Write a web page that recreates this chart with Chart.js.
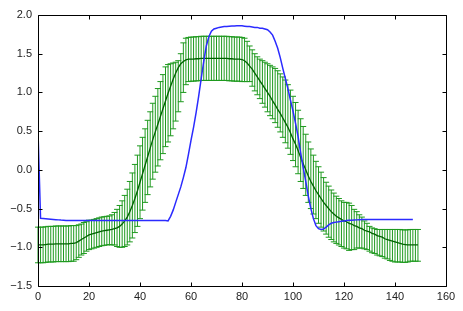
<!DOCTYPE html>
<html><head><meta charset="utf-8">
<script src="https://cdn.jsdelivr.net/npm/chart.js@4/dist/chart.umd.min.js"></script>
<style>html,body{margin:0;padding:0;background:#fff}#wrap{width:463px;height:311px}</style>
</head><body><div id="wrap"><canvas id="c" width="463" height="311"></canvas></div>
<script>
const xTicks = [0, 20, 40, 60, 80, 100, 120, 140, 160];
const yTicks = [-1.5, -1.0, -0.5, 0.0, 0.5, 1.0, 1.5, 2.0];

const greenMean = [
-0.97,-0.97,-0.97,-0.965,-0.96,-0.96,-0.96,-0.955,-0.955,-0.955,
-0.955,-0.955,-0.955,-0.95,-0.95,-0.94,-0.92,-0.90,-0.88,-0.86,
-0.84,-0.83,-0.82,-0.81,-0.80,-0.79,-0.785,-0.78,-0.775,-0.77,
-0.76,-0.75,-0.73,-0.70,-0.66,-0.61,-0.54,-0.46,-0.37,-0.27,
-0.16,-0.05,0.06,0.17,0.28,0.39,0.49,0.59,0.69,0.79,
0.89,0.99,1.08,1.17,1.25,1.32,1.37,1.40,1.42,1.43,
1.43,1.43,1.435,1.435,1.44,1.44,1.44,1.44,1.44,1.44,
1.44,1.44,1.44,1.44,1.44,1.435,1.435,1.43,1.43,1.43,
1.425,1.41,1.38,1.34,1.30,1.25,1.20,1.15,1.10,1.05,
1.00,0.95,0.89,0.84,0.78,0.73,0.67,0.61,0.55,0.48,
0.40,0.33,0.25,0.16,0.08,0.00,-0.08,-0.15,-0.21,-0.27,
-0.32,-0.37,-0.42,-0.46,-0.50,-0.54,-0.57,-0.60,-0.62,-0.64,
-0.66,-0.67,-0.69,-0.70,-0.72,-0.73,-0.75,-0.76,-0.78,-0.79,
-0.80,-0.82,-0.83,-0.85,-0.86,-0.87,-0.89,-0.90,-0.91,-0.92,
-0.93,-0.94,-0.95,-0.96,-0.965,-0.97,-0.97,-0.97,-0.97,-0.97
];

const greenErrUp = [
0.23,0.23,0.23,0.23,0.23,0.23,0.23,0.23,0.23,0.23,
0.23,0.23,0.23,0.23,0.23,0.22,0.21,0.20,0.20,0.19,
0.19,0.18,0.18,0.18,0.18,0.18,0.18,0.18,0.18,0.19,
0.21,0.24,0.27,0.30,0.33,0.36,0.39,0.42,0.44,0.46,
0.47,0.47,0.47,0.47,0.47,0.47,0.46,0.46,0.45,0.44,
0.44,0.37,0.29,0.21,0.14,0.09,0.13,0.24,0.28,0.28,
0.285,0.285,0.285,0.285,0.285,0.285,0.285,0.285,0.285,0.285,
0.285,0.285,0.285,0.285,0.285,0.285,0.285,0.285,0.285,0.285,
0.285,0.29,0.28,0.26,0.25,0.25,0.26,0.28,0.31,0.34,
0.37,0.40,0.44,0.47,0.50,0.51,0.53,0.55,0.55,0.55,
0.55,0.54,0.52,0.50,0.48,0.46,0.44,0.42,0.40,0.38,
0.36,0.34,0.32,0.30,0.29,0.28,0.27,0.26,0.25,0.24,
0.24,0.25,0.26,0.24,0.21,0.19,0.17,0.15,0.12,0.10,
0.07,0.07,0.07,0.08,0.09,0.10,0.12,0.13,0.14,0.15,
0.16,0.17,0.18,0.185,0.19,0.195,0.20,0.20,0.20,0.20
];

const greenErrDown = [
0.23,0.23,0.23,0.23,0.23,0.23,0.23,0.23,0.23,0.23,
0.23,0.23,0.23,0.23,0.23,0.22,0.21,0.20,0.20,0.19,
0.19,0.19,0.19,0.19,0.19,0.19,0.19,0.19,0.19,0.20,
0.21,0.24,0.27,0.30,0.33,0.36,0.39,0.42,0.44,0.46,
0.47,0.47,0.48,0.49,0.50,0.51,0.52,0.54,0.56,0.58,
0.59,0.63,0.64,0.64,0.62,0.57,0.49,0.40,0.32,0.29,
0.285,0.285,0.285,0.285,0.285,0.285,0.285,0.285,0.285,0.285,
0.285,0.285,0.285,0.285,0.285,0.285,0.285,0.285,0.285,0.285,
0.285,0.27,0.24,0.20,0.22,0.23,0.23,0.23,0.24,0.24,
0.25,0.25,0.23,0.23,0.23,0.24,0.25,0.26,0.27,0.28,
0.28,0.29,0.30,0.31,0.32,0.33,0.34,0.35,0.36,0.36,
0.37,0.37,0.37,0.37,0.37,0.36,0.36,0.35,0.35,0.35,
0.35,0.35,0.35,0.33,0.31,0.28,0.26,0.25,0.24,0.24,
0.25,0.25,0.25,0.25,0.25,0.25,0.25,0.25,0.26,0.26,
0.26,0.25,0.24,0.235,0.23,0.22,0.21,0.21,0.21,0.21
];

const blueLine = [
0.50,-0.625,-0.628,-0.631,-0.634,-0.637,-0.64,-0.643,-0.646,-0.649,
-0.651,-0.653,-0.655,-0.655,-0.655,-0.655,-0.655,-0.655,-0.655,-0.655,
-0.655,-0.655,-0.655,-0.655,-0.655,-0.655,-0.655,-0.655,-0.655,-0.655,
-0.655,-0.655,-0.655,-0.655,-0.655,-0.655,-0.655,-0.655,-0.655,-0.655,
-0.655,-0.655,-0.655,-0.655,-0.655,-0.655,-0.655,-0.655,-0.655,-0.655,
-0.655,-0.66,-0.60,-0.52,-0.42,-0.32,-0.22,-0.10,0.03,0.20,
0.38,0.55,0.74,0.95,1.18,1.40,1.60,1.72,1.79,1.82,
1.83,1.84,1.845,1.85,1.853,1.855,1.857,1.858,1.86,1.86,
1.86,1.855,1.85,1.85,1.845,1.84,1.84,1.83,1.83,1.82,
1.81,1.78,1.74,1.66,1.57,1.45,1.31,1.18,1.05,0.90,
0.76,0.60,0.43,0.22,0.03,-0.15,-0.34,-0.50,-0.63,-0.72,
-0.76,-0.77,-0.765,-0.74,-0.71,-0.69,-0.68,-0.675,-0.67,-0.665,
-0.66,-0.655,-0.652,-0.65,-0.648,-0.646,-0.644,-0.642,-0.64,-0.64,
-0.64,-0.64,-0.64,-0.64,-0.64,-0.64,-0.64,-0.64,-0.64,-0.64,
-0.64,-0.64,-0.64,-0.64,-0.64,-0.64,-0.64,-0.64
];

const greenPts = greenMean.map((v, i) => ({x: i, y: v}));
const bluePts = blueLine.map((v, i) => ({x: i, y: v}));

const errorBarPlugin = {
  id: 'errorBars',
  beforeDatasetsDraw(chart) {
    const ctx = chart.ctx, xs = chart.scales.x, ys = chart.scales.y;
    ctx.save();
    ctx.strokeStyle = '#1f9a1f';
    ctx.lineWidth = 1;
    ctx.beginPath();
    greenMean.forEach((m, i) => {
      const px = xs.getPixelForValue(i);
      const top = ys.getPixelForValue(m + greenErrUp[i]);
      const bot = ys.getPixelForValue(m - greenErrDown[i]);
      ctx.moveTo(px, top); ctx.lineTo(px, bot);
      ctx.moveTo(px - 3, top); ctx.lineTo(px + 3, top);
      ctx.moveTo(px - 3, bot); ctx.lineTo(px + 3, bot);
    });
    ctx.stroke();
    ctx.restore();
  },
  afterDraw(chart) {
    const ctx = chart.ctx, a = chart.chartArea, xs = chart.scales.x, ys = chart.scales.y;
    ctx.save();
    ctx.strokeStyle = '#000';
    ctx.lineWidth = 1;
    ctx.beginPath();
    const L = Math.round(a.left) + 0.5, R = Math.round(a.right) + 0.5, T = Math.round(a.top) + 0.5, B = Math.round(a.bottom) + 0.5;
    ctx.rect(L, T, R - L, B - T);
    xTicks.forEach(v => {
      const px = Math.round(xs.getPixelForValue(v)) + 0.5;
      ctx.moveTo(px, B); ctx.lineTo(px, B - 4);
      ctx.moveTo(px, T); ctx.lineTo(px, T + 4);
    });
    yTicks.forEach(v => {
      const py = Math.round(ys.getPixelForValue(v)) + 0.5;
      ctx.moveTo(L, py); ctx.lineTo(L + 4, py);
      ctx.moveTo(R, py); ctx.lineTo(R - 4, py);
    });
    ctx.stroke();
    ctx.restore();
  }
};

const fmt = v => (v < 0 ? '\u2212' : '') + Math.abs(v).toFixed(1);

new Chart(document.getElementById('c'), {
  type: 'line',
  data: {
    datasets: [
      {data: bluePts, borderColor: '#2b2bff', borderWidth: 1.5, pointRadius: 0, tension: 0, fill: false},
      {data: greenPts, borderColor: '#006400', borderWidth: 1.3, pointRadius: 0, tension: 0, fill: false}
    ]
  },
  options: {
    responsive: false,
    animation: false,
    devicePixelRatio: 1,
    layout: {padding: {top: 15, right: 17, left: 0, bottom: 0}},
    plugins: {legend: {display: false}, tooltip: {enabled: false}},
    scales: {
      x: {
        type: 'linear', min: 0, max: 160,
        afterBuildTicks: s => { s.ticks = xTicks.map(v => ({value: v})); },
        afterFit: s => { s.height = 25; },
        grid: {display: false, drawTicks: false, tickLength: 0},
        border: {display: false},
        ticks: {padding: 4, color: '#222', font: {family: 'Liberation Sans, Arial', size: 11}, callback: v => String(v), maxRotation: 0}
      },
      y: {
        type: 'linear', min: -1.5, max: 2.0,
        afterBuildTicks: s => { s.ticks = yTicks.map(v => ({value: v})); },
        afterFit: s => { s.width = 38; },
        grid: {display: false, drawTicks: false, tickLength: 0},
        border: {display: false},
        ticks: {padding: 6, color: '#222', font: {family: 'Liberation Sans, Arial', size: 11}, callback: v => fmt(v)}
      }
    }
  },
  plugins: [errorBarPlugin]
});
</script>
</body></html>
